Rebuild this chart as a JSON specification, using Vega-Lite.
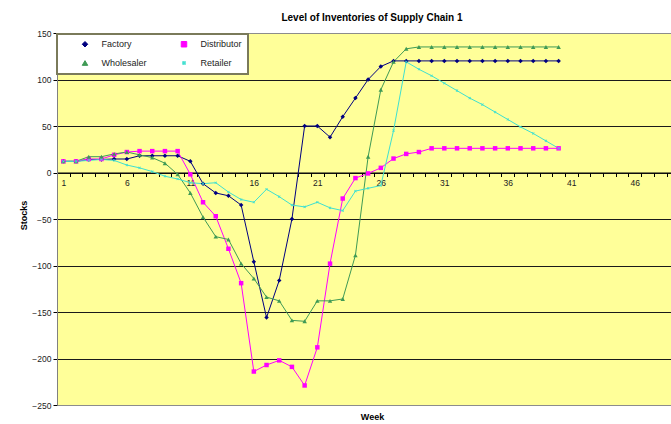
{
  "$schema": "https://vega.github.io/schema/vega-lite/v6.json",
  "autosize": "none",
  "width": 614,
  "height": 372,
  "padding": {"left": 57, "top": 33, "right": 0, "bottom": 19},
  "background": "white",
  "title": {"text": "Level of Inventories of Supply Chain 1", "font": "Liberation Sans", "fontSize": 10, "fontWeight": "bold", "color": "#000", "anchor": "middle", "dx": 8, "offset": 6},
  "config": {
    "view": {"fill": "#ffff99", "stroke": "#8c8c8c", "strokeWidth": 1},
    "font": "Liberation Sans",
    "legend": {"strokeColor": "#7a7a5a", "strokeWidth": 2, "fillColor": "white", "padding": 5.5}
  },
  "datasets": {
    "raw": [
      {"week":1,"series":"Factory","stock":12},{"week":2,"series":"Factory","stock":12},{"week":3,"series":"Factory","stock":14},{"week":4,"series":"Factory","stock":14},{"week":5,"series":"Factory","stock":14.5},{"week":6,"series":"Factory","stock":14.5},{"week":7,"series":"Factory","stock":18},{"week":8,"series":"Factory","stock":18},{"week":9,"series":"Factory","stock":18},{"week":10,"series":"Factory","stock":18},
      {"week":11,"series":"Factory","stock":12},{"week":12,"series":"Factory","stock":-12},{"week":13,"series":"Factory","stock":-22},{"week":14,"series":"Factory","stock":-25},{"week":15,"series":"Factory","stock":-35},{"week":16,"series":"Factory","stock":-96},{"week":17,"series":"Factory","stock":-156},{"week":18,"series":"Factory","stock":-116},{"week":19,"series":"Factory","stock":-50},{"week":20,"series":"Factory","stock":50},
      {"week":21,"series":"Factory","stock":50},{"week":22,"series":"Factory","stock":38},{"week":23,"series":"Factory","stock":60},{"week":24,"series":"Factory","stock":80},{"week":25,"series":"Factory","stock":100},{"week":26,"series":"Factory","stock":114},{"week":27,"series":"Factory","stock":120},{"week":28,"series":"Factory","stock":120},{"week":29,"series":"Factory","stock":120},{"week":30,"series":"Factory","stock":120},
      {"week":31,"series":"Factory","stock":120},{"week":32,"series":"Factory","stock":120},{"week":33,"series":"Factory","stock":120},{"week":34,"series":"Factory","stock":120},{"week":35,"series":"Factory","stock":120},{"week":36,"series":"Factory","stock":120},{"week":37,"series":"Factory","stock":120},{"week":38,"series":"Factory","stock":120},{"week":39,"series":"Factory","stock":120},{"week":40,"series":"Factory","stock":120},

      {"week":1,"series":"Distributor","stock":12},{"week":2,"series":"Distributor","stock":12},{"week":3,"series":"Distributor","stock":14.5},{"week":4,"series":"Distributor","stock":14.5},{"week":5,"series":"Distributor","stock":19},{"week":6,"series":"Distributor","stock":22},{"week":7,"series":"Distributor","stock":23},{"week":8,"series":"Distributor","stock":23},{"week":9,"series":"Distributor","stock":23},{"week":10,"series":"Distributor","stock":23},
      {"week":11,"series":"Distributor","stock":-2},{"week":12,"series":"Distributor","stock":-32},{"week":13,"series":"Distributor","stock":-47},{"week":14,"series":"Distributor","stock":-82},{"week":15,"series":"Distributor","stock":-119},{"week":16,"series":"Distributor","stock":-214},{"week":17,"series":"Distributor","stock":-207},{"week":18,"series":"Distributor","stock":-202},{"week":19,"series":"Distributor","stock":-209},{"week":20,"series":"Distributor","stock":-229},
      {"week":21,"series":"Distributor","stock":-188},{"week":22,"series":"Distributor","stock":-98},{"week":23,"series":"Distributor","stock":-28},{"week":24,"series":"Distributor","stock":-6},{"week":25,"series":"Distributor","stock":-1},{"week":26,"series":"Distributor","stock":5},{"week":27,"series":"Distributor","stock":15},{"week":28,"series":"Distributor","stock":20},{"week":29,"series":"Distributor","stock":22},{"week":30,"series":"Distributor","stock":26},
      {"week":31,"series":"Distributor","stock":26},{"week":32,"series":"Distributor","stock":26},{"week":33,"series":"Distributor","stock":26},{"week":34,"series":"Distributor","stock":26},{"week":35,"series":"Distributor","stock":26},{"week":36,"series":"Distributor","stock":26},{"week":37,"series":"Distributor","stock":26},{"week":38,"series":"Distributor","stock":26},{"week":39,"series":"Distributor","stock":26},{"week":40,"series":"Distributor","stock":26},

      {"week":1,"series":"Wholesaler","stock":12},{"week":2,"series":"Wholesaler","stock":12},{"week":3,"series":"Wholesaler","stock":17},{"week":4,"series":"Wholesaler","stock":17},{"week":5,"series":"Wholesaler","stock":20},{"week":6,"series":"Wholesaler","stock":22},{"week":7,"series":"Wholesaler","stock":19},{"week":8,"series":"Wholesaler","stock":16},{"week":9,"series":"Wholesaler","stock":10},{"week":10,"series":"Wholesaler","stock":-2},
      {"week":11,"series":"Wholesaler","stock":-22},{"week":12,"series":"Wholesaler","stock":-48},{"week":13,"series":"Wholesaler","stock":-69},{"week":14,"series":"Wholesaler","stock":-72},{"week":15,"series":"Wholesaler","stock":-98},{"week":16,"series":"Wholesaler","stock":-114},{"week":17,"series":"Wholesaler","stock":-134},{"week":18,"series":"Wholesaler","stock":-138},{"week":19,"series":"Wholesaler","stock":-159},{"week":20,"series":"Wholesaler","stock":-160},
      {"week":21,"series":"Wholesaler","stock":-138},{"week":22,"series":"Wholesaler","stock":-138},{"week":23,"series":"Wholesaler","stock":-136},{"week":24,"series":"Wholesaler","stock":-89},{"week":25,"series":"Wholesaler","stock":17},{"week":26,"series":"Wholesaler","stock":89},{"week":27,"series":"Wholesaler","stock":119},{"week":28,"series":"Wholesaler","stock":133},{"week":29,"series":"Wholesaler","stock":135},{"week":30,"series":"Wholesaler","stock":135},
      {"week":31,"series":"Wholesaler","stock":135},{"week":32,"series":"Wholesaler","stock":135},{"week":33,"series":"Wholesaler","stock":135},{"week":34,"series":"Wholesaler","stock":135},{"week":35,"series":"Wholesaler","stock":135},{"week":36,"series":"Wholesaler","stock":135},{"week":37,"series":"Wholesaler","stock":135},{"week":38,"series":"Wholesaler","stock":135},{"week":39,"series":"Wholesaler","stock":135},{"week":40,"series":"Wholesaler","stock":135},

      {"week":1,"series":"Retailer","stock":12},{"week":2,"series":"Retailer","stock":12},{"week":3,"series":"Retailer","stock":13},{"week":4,"series":"Retailer","stock":14},{"week":5,"series":"Retailer","stock":13},{"week":6,"series":"Retailer","stock":8},{"week":7,"series":"Retailer","stock":5},{"week":8,"series":"Retailer","stock":1},{"week":9,"series":"Retailer","stock":-4},{"week":10,"series":"Retailer","stock":-7},
      {"week":11,"series":"Retailer","stock":-11},{"week":12,"series":"Retailer","stock":-12},{"week":13,"series":"Retailer","stock":-11},{"week":14,"series":"Retailer","stock":-21},{"week":15,"series":"Retailer","stock":-29},{"week":16,"series":"Retailer","stock":-32},{"week":17,"series":"Retailer","stock":-18},{"week":18,"series":"Retailer","stock":-26},{"week":19,"series":"Retailer","stock":-35},{"week":20,"series":"Retailer","stock":-37},
      {"week":21,"series":"Retailer","stock":-32},{"week":22,"series":"Retailer","stock":-38},{"week":23,"series":"Retailer","stock":-41},{"week":24,"series":"Retailer","stock":-20},{"week":25,"series":"Retailer","stock":-17},{"week":26,"series":"Retailer","stock":-14},{"week":27,"series":"Retailer","stock":45},{"week":28,"series":"Retailer","stock":119},{"week":29,"series":"Retailer","stock":111},{"week":30,"series":"Retailer","stock":104},
      {"week":31,"series":"Retailer","stock":96},{"week":32,"series":"Retailer","stock":88},{"week":33,"series":"Retailer","stock":80},{"week":34,"series":"Retailer","stock":73},{"week":35,"series":"Retailer","stock":65},{"week":36,"series":"Retailer","stock":57},{"week":37,"series":"Retailer","stock":49},{"week":38,"series":"Retailer","stock":42},{"week":39,"series":"Retailer","stock":34},{"week":40,"series":"Retailer","stock":26}
    ]
  },
  "data": {"name": "raw"},
  "encoding": {
    "x": {
      "field": "week", "type": "quantitative",
      "scale": {"domain": [0.5, 48.85], "nice": false, "zero": false},
      "axis": {
        "values": [0.5,1.5,2.5,3.5,4.5,5.5,6.5,7.5,8.5,9.5,10.5,11.5,12.5,13.5,14.5,15.5,16.5,17.5,18.5,19.5,20.5,21.5,22.5,23.5,24.5,25.5,26.5,27.5,28.5,29.5,30.5,31.5,32.5,33.5,34.5,35.5,36.5,37.5,38.5,39.5,40.5,41.5,42.5,43.5,44.5,45.5,46.5,47.5,48.5],
        "labelExpr": "(datum.value - 0.5) % 5 == 0 ? format(datum.value + 0.5, 'd') : ''",
        "labelOffset": 6.35,
        "offset": -232.5,
        "grid": false,
        "domainColor": "#000", "domainWidth": 1,
        "tickColor": "#000", "tickSize": 4, "tickWidth": 1,
        "labelFont": "Liberation Sans", "labelFontSize": 8.5, "labelColor": "#222", "labelPadding": 2,
        "labelFlush": false, "labelOverlap": false, "labelBound": false,
        "title": "Week", "titleFont": "Liberation Sans", "titleFontSize": 9, "titleFontWeight": "bold", "titleColor": "#000",
        "titleX": 315, "titleY": 243.5, "titleBaseline": "middle", "titleAlign": "center"
      }
    },
    "y": {
      "field": "stock", "type": "quantitative",
      "scale": {"domain": [-250, 150], "nice": false, "zero": false},
      "axis": {
        "values": [-250,-200,-150,-100,-50,0,50,100,150],
        "grid": true,
        "gridColor": {"condition": {"test": "datum.value == 150 || datum.value == -250", "value": "transparent"}, "value": "#1a1a1a"},
        "gridWidth": 1,
        "domainColor": "#808080",
        "tickColor": "#000", "tickSize": 4,
        "labelFont": "Liberation Sans", "labelFontSize": 8.5, "labelColor": "#222", "labelPadding": 2,
        "title": "Stocks", "titleFont": "Liberation Sans", "titleFontSize": 9, "titleFontWeight": "bold", "titleColor": "#000",
        "titleX": -34, "titleY": 182, "titleBaseline": "middle", "titleAngle": -90, "titleAlign": "center"
      }
    },
    "color": {
      "field": "series", "type": "nominal",
      "scale": {"domain": ["Factory", "Distributor", "Wholesaler", "Retailer"], "range": ["#000080", "#ff00ff", "#3f9a55", "#3fe0d0"]},
      "legend": {
        "orient": "none", "legendX": 0, "legendY": 1,
        "direction": "horizontal", "columns": 2, "title": null,
        "labelFont": "Liberation Sans", "labelFontSize": 9, "labelColor": "#222",
        "symbolSize": 30, "symbolOffset": 18, "labelOffset": 12, "columnPadding": 14, "rowPadding": 9,
        "symbolStrokeWidth": 1
      }
    }
  },
  "layer": [
    {
      "mark": {"type": "line", "strokeWidth": 1},
      "encoding": {
        "strokeWidth": {"field": "series", "type": "nominal", "scale": {"domain": ["Factory", "Distributor", "Wholesaler", "Retailer"], "range": [1, 1, 1, 1.8]}, "legend": null}
      }
    },
    {
      "mark": {"type": "point", "filled": true, "opacity": 1, "size": 20},
      "encoding": {
        "shape": {"field": "series", "type": "nominal", "scale": {"domain": ["Factory", "Distributor", "Wholesaler", "Retailer"], "range": ["diamond", "square", "triangle-up", "M-0.6,-0.36L-0.36,-0.6L0,-0.24L0.36,-0.6L0.6,-0.36L0.24,0L0.6,0.36L0.36,0.6L0,0.24L-0.36,0.6L-0.6,0.36L-0.24,0Z"]}, "legend": null}
      }
    }
  ]
}
